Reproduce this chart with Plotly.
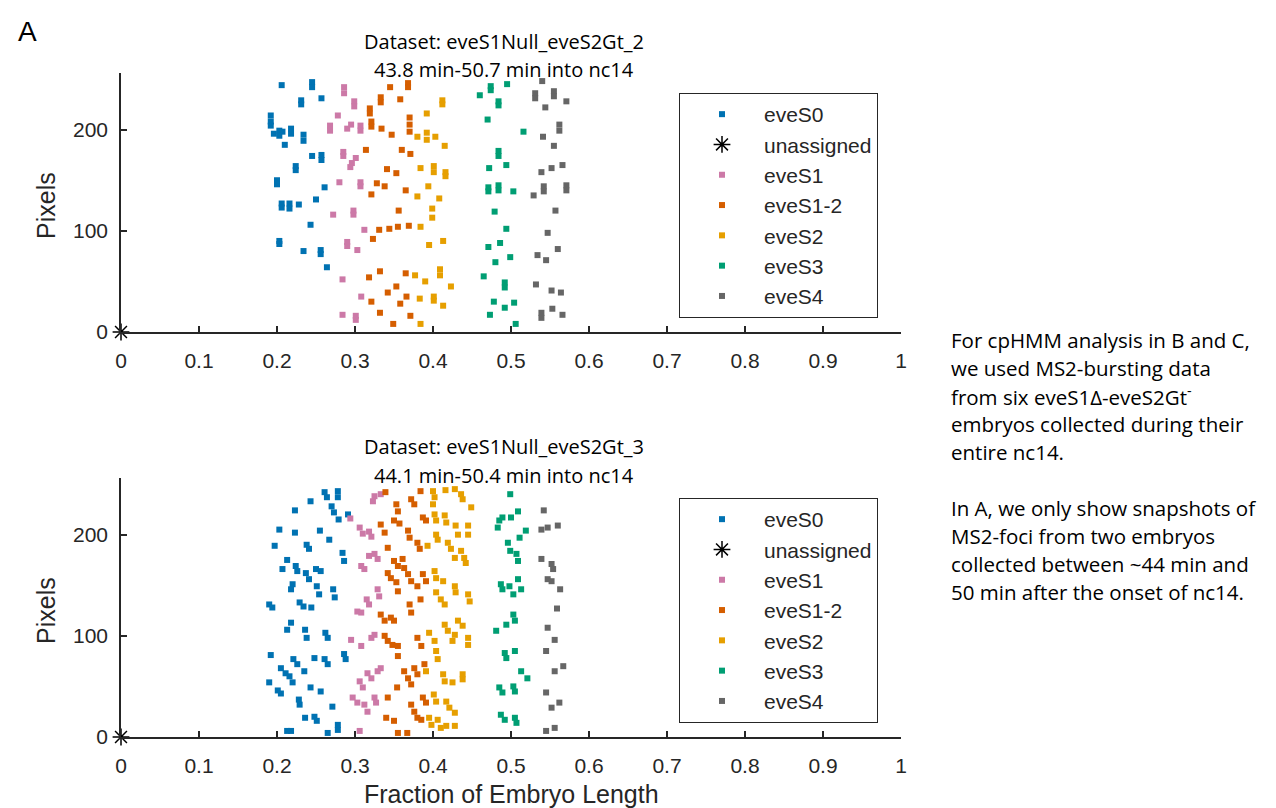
import plotly.graph_objects as go

# ---------------- data (fraction of embryo length, pixels) ----------------
# Top embryo: eveS1Null_eveS2Gt_2
top_S0_x = [0.206, 0.245, 0.245, 0.231, 0.231, 0.257, 0.192, 0.192, 0.192, 0.196, 0.203, 0.207, 0.203, 0.218, 0.218,
            0.234, 0.234, 0.210, 0.245, 0.257, 0.257, 0.224, 0.224, 0.200, 0.200, 0.261, 0.250, 0.206, 0.206, 0.216,
            0.216, 0.228, 0.243, 0.203, 0.203, 0.234, 0.256, 0.256, 0.264]
top_S0_y = [244, 247, 242, 229, 225, 231, 214, 208, 204, 196, 199, 198, 194, 201, 196,
            195, 189, 185, 174, 175, 170, 164, 160, 150, 146, 143, 131, 127, 123, 127,
            122, 126, 106, 90, 87, 80, 81, 77, 64]

top_S1_x = [0.286, 0.286, 0.299, 0.299, 0.278, 0.268, 0.268, 0.290, 0.295, 0.307, 0.307, 0.285, 0.285, 0.301, 0.296,
            0.294, 0.280, 0.307, 0.307, 0.272, 0.298, 0.298, 0.312, 0.290, 0.290, 0.303, 0.284, 0.308, 0.284, 0.301,
            0.301]
top_S1_y = [242, 236, 228, 223, 214, 204, 199, 201, 205, 204, 199, 178, 174, 172, 167,
            163, 148, 148, 144, 116, 120, 116, 101, 89, 85, 81, 52, 35, 17, 16,
            12]

top_S12_x = [0.345, 0.368, 0.368, 0.333, 0.333, 0.358, 0.319, 0.319, 0.321, 0.321, 0.334, 0.347, 0.370, 0.370, 0.370,
             0.314, 0.360, 0.371, 0.341, 0.353, 0.328, 0.338, 0.321, 0.365, 0.356, 0.331, 0.323, 0.344, 0.355, 0.369,
             0.332, 0.318, 0.365, 0.353, 0.342, 0.366, 0.321, 0.358, 0.332, 0.371, 0.349]
top_S12_y = [242, 246, 242, 232, 227, 230, 221, 216, 208, 203, 201, 195, 212, 205, 198,
             180, 180, 176, 161, 157, 147, 144, 136, 140, 120, 101, 92, 102, 104, 105,
             60, 54, 58, 45, 39, 35, 30, 28, 19, 16, 8]

top_S2_x = [0.412, 0.412, 0.392, 0.380, 0.392, 0.392, 0.403, 0.415, 0.384, 0.401, 0.401, 0.416, 0.416, 0.394, 0.380,
            0.408, 0.399, 0.399, 0.384, 0.395, 0.413, 0.377, 0.390, 0.409, 0.409, 0.423, 0.383, 0.401, 0.401, 0.413,
            0.384]
top_S2_y = [229, 225, 216, 193, 197, 190, 193, 184, 162, 164, 158, 158, 154, 144, 134,
            132, 122, 113, 104, 86, 90, 56, 50, 62, 56, 45, 33, 35, 31, 26,
            8]

top_S3_x = [0.460, 0.474, 0.474, 0.495, 0.484, 0.484, 0.470, 0.516, 0.484, 0.484, 0.472, 0.494, 0.471, 0.471, 0.484,
            0.484, 0.503, 0.479, 0.494, 0.471, 0.486, 0.499, 0.480, 0.465, 0.492, 0.492, 0.478, 0.492, 0.504, 0.473,
            0.506]
top_S3_y = [234, 243, 239, 245, 228, 224, 210, 198, 179, 174, 162, 165, 143, 139, 145,
            140, 139, 119, 102, 84, 88, 74, 69, 55, 49, 44, 30, 24, 29, 17,
            8]

top_S4_x = [0.540, 0.531, 0.531, 0.555, 0.555, 0.571, 0.544, 0.562, 0.562, 0.541, 0.555, 0.539, 0.552, 0.566, 0.529,
            0.542, 0.542, 0.571, 0.571, 0.557, 0.547, 0.534, 0.545, 0.560, 0.532, 0.552, 0.564, 0.539, 0.539, 0.553,
            0.566]
top_S4_y = [248, 236, 231, 238, 233, 228, 222, 205, 199, 193, 184, 158, 162, 165, 135,
            144, 139, 145, 140, 120, 98, 76, 71, 82, 47, 41, 39, 19, 14, 23,
            17]

# Bottom embryo: eveS1Null_eveS2Gt_3
bot_S0_x = [0.261, 0.264, 0.278, 0.278, 0.243, 0.223, 0.270, 0.273, 0.279, 0.291, 0.203, 0.223, 0.255, 0.238, 0.241,
            0.267, 0.197, 0.284, 0.286, 0.213, 0.207, 0.224, 0.226, 0.237, 0.241, 0.250, 0.256, 0.220, 0.218, 0.251,
            0.254, 0.272, 0.274, 0.190, 0.194, 0.229, 0.234, 0.244, 0.218, 0.213, 0.236, 0.238, 0.262, 0.265, 0.192,
            0.205, 0.211, 0.221, 0.226, 0.235, 0.248, 0.261, 0.265, 0.286, 0.288, 0.190, 0.201, 0.205, 0.216, 0.220,
            0.243, 0.256, 0.228, 0.229, 0.271, 0.236, 0.248, 0.251, 0.265, 0.278, 0.278, 0.213, 0.218]
bot_S0_y = [242, 237, 243, 237, 233, 224, 228, 222, 215, 220, 205, 202, 204, 190, 186,
            195, 189, 182, 174, 175, 166, 169, 164, 162, 156, 166, 164, 151, 146, 149,
            141, 146, 138, 131, 128, 133, 129, 128, 113, 106, 106, 98, 103, 98, 81,
            68, 63, 77, 72, 65, 78, 77, 72, 82, 77, 54, 46, 43, 60, 54,
            49, 45, 37, 32, 30, 19, 20, 16, 4, 12, 7, 6, 6]

bot_S1_x = [0.325, 0.323, 0.333, 0.294, 0.306, 0.310, 0.318, 0.321, 0.308, 0.312, 0.318, 0.325, 0.329, 0.329, 0.331,
            0.303, 0.308, 0.315, 0.318, 0.295, 0.308, 0.321, 0.325, 0.306, 0.310, 0.316, 0.321, 0.329, 0.333, 0.297,
            0.303, 0.312, 0.316, 0.325, 0.327, 0.306]
bot_S1_y = [238, 233, 240, 216, 207, 201, 203, 198, 169, 166, 179, 181, 176, 146, 139,
            124, 123, 136, 131, 96, 90, 98, 101, 55, 49, 63, 58, 65, 68, 39,
            34, 32, 25, 39, 34, 6]

bot_S12_x = [0.339, 0.353, 0.355, 0.350, 0.357, 0.372, 0.376, 0.384, 0.333, 0.338, 0.342, 0.368, 0.370, 0.387, 0.391,
             0.380, 0.383, 0.350, 0.355, 0.361, 0.363, 0.342, 0.346, 0.353, 0.355, 0.368, 0.372, 0.380, 0.387, 0.391,
             0.333, 0.338, 0.346, 0.350, 0.370, 0.372, 0.384, 0.338, 0.342, 0.348, 0.355, 0.355, 0.380, 0.385, 0.363,
             0.368, 0.372, 0.376, 0.380, 0.389, 0.342, 0.354, 0.372, 0.376, 0.380, 0.387, 0.391, 0.340, 0.350, 0.355,
             0.367, 0.385]
bot_S12_y = [242, 230, 223, 214, 211, 235, 230, 243, 210, 202, 187, 204, 197, 217, 214,
             192, 186, 174, 169, 176, 167, 162, 157, 153, 144, 161, 154, 149, 161, 154,
             121, 115, 118, 115, 131, 123, 136, 100, 95, 91, 90, 80, 98, 90, 65,
             58, 52, 68, 62, 72, 39, 49, 32, 25, 19, 39, 34, 19, 16, 4,
             4, 17]

bot_S2_x = [0.400, 0.402, 0.400, 0.416, 0.428, 0.436, 0.438, 0.449, 0.402, 0.404, 0.415, 0.417, 0.404, 0.406, 0.429,
            0.432, 0.445, 0.445, 0.393, 0.419, 0.423, 0.428, 0.436, 0.440, 0.442, 0.402, 0.404, 0.413, 0.404, 0.410,
            0.415, 0.428, 0.429, 0.445, 0.447, 0.432, 0.438, 0.415, 0.419, 0.428, 0.425, 0.395, 0.402, 0.445, 0.445,
            0.404, 0.406, 0.391, 0.413, 0.415, 0.425, 0.438, 0.438, 0.401, 0.404, 0.417, 0.421, 0.428, 0.395, 0.398,
            0.406, 0.410, 0.417, 0.428]
bot_S2_y = [243, 237, 230, 244, 245, 240, 235, 227, 220, 214, 219, 212, 200, 195, 209,
            200, 209, 200, 189, 192, 186, 177, 184, 177, 172, 164, 157, 154, 143, 136,
            131, 149, 143, 141, 134, 115, 110, 111, 105, 101, 95, 103, 95, 98, 91,
            85, 77, 65, 62, 55, 54, 62, 57, 42, 35, 35, 29, 24, 19, 12,
            17, 9, 11, 11]

bot_S3_x = [0.499, 0.485, 0.483, 0.489, 0.500, 0.509, 0.519, 0.496, 0.499, 0.507, 0.509, 0.511, 0.487, 0.489, 0.498,
            0.503, 0.509, 0.513, 0.503, 0.505, 0.481, 0.494, 0.492, 0.494, 0.505, 0.513, 0.521, 0.485, 0.489, 0.503,
            0.505, 0.487, 0.492, 0.505, 0.507]
bot_S3_y = [240, 214, 207, 217, 217, 223, 204, 192, 184, 181, 174, 197, 151, 146, 149,
            141, 156, 146, 121, 115, 105, 111, 83, 78, 85, 65, 58, 49, 44, 50,
            45, 22, 17, 19, 14]

bot_S4_x = [0.542, 0.539, 0.547, 0.560, 0.539, 0.552, 0.554, 0.547, 0.552, 0.563, 0.559, 0.547, 0.556, 0.545, 0.556,
            0.567, 0.545, 0.552, 0.562, 0.545, 0.556]
bot_S4_y = [224, 205, 207, 209, 176, 171, 166, 156, 154, 146, 127, 108, 96, 85, 65,
            70, 44, 29, 34, 6, 9]

unassigned_x = [0.0]
unassigned_y = [0.0]

x_tick_vals = [0, 0.1, 0.2, 0.3, 0.4, 0.5, 0.6, 0.7, 0.8, 0.9, 1]
x_tick_text = ["0", "0.1", "0.2", "0.3", "0.4", "0.5", "0.6", "0.7", "0.8", "0.9", "1"]
y_tick_vals = [0, 100, 200]
y_tick_text = ["0", "100", "200"]

titles_top = ["Dataset: eveS1Null_eveS2Gt_2", "43.8 min-50.7 min into nc14"]
titles_bot = ["Dataset: eveS1Null_eveS2Gt_3", "44.1 min-50.4 min into nc14"]

side_text = ["For cpHMM analysis in B and C,",
             "we used MS2-bursting data",
             "from six eveS1\u0394-eveS2Gt<sup>-</sup>",
             "embryos collected during their",
             "entire nc14.",
             "",
             "In A, we only show snapshots of",
             "MS2-foci from two embryos",
             "collected between ~44 min and",
             "50 min after the onset of nc14."]

# ---------------- styling ----------------
colors = {"eveS0": "#0072B2", "eveS1": "#CC79A7", "eveS1-2": "#D55E00",
          "eveS2": "#E69F00", "eveS3": "#009E73", "eveS4": "#666666"}
AX = "#262626"
ARIAL = "Liberation Sans, Arial"
TICKFONT = dict(family=ARIAL, size=21, color=AX)

W, H = 1276, 808
ML, MR, MT, MB = 113, 383, 65, 79
PH = H - MT - MB


def py(px):
    return (H - MB - px) / PH


def pxx(px):
    return (px - ML) / (W - ML - MR)


fig = go.Figure()


def add_panel(xa, ya, legend, series):
    first = True
    for name, xs, ys in series:
        fig.add_trace(go.Scatter(x=xs, y=ys, mode="markers", name=name,
                                 xaxis=xa, yaxis=ya, legend=legend,
                                 marker=dict(symbol="square", size=6, color=colors[name], line=dict(width=0)),
                                 cliponaxis=False))
        if first:
            fig.add_trace(go.Scatter(x=unassigned_x, y=unassigned_y, mode="markers", name="unassigned",
                                     xaxis=xa, yaxis=ya, legend=legend,
                                     marker=dict(symbol="asterisk-open", size=14, color="black",
                                                 line=dict(width=1.5, color="black")),
                                     cliponaxis=False))
            first = False


add_panel("x", "y", "legend", [
    ("eveS0", top_S0_x, top_S0_y), ("eveS1", top_S1_x, top_S1_y), ("eveS1-2", top_S12_x, top_S12_y),
    ("eveS2", top_S2_x, top_S2_y), ("eveS3", top_S3_x, top_S3_y), ("eveS4", top_S4_x, top_S4_y)])
add_panel("x2", "y2", "legend2", [
    ("eveS0", bot_S0_x, bot_S0_y), ("eveS1", bot_S1_x, bot_S1_y), ("eveS1-2", bot_S12_x, bot_S12_y),
    ("eveS2", bot_S2_x, bot_S2_y), ("eveS3", bot_S3_x, bot_S3_y), ("eveS4", bot_S4_x, bot_S4_y)])

xax = dict(range=[0, 1], tickvals=x_tick_vals, ticktext=x_tick_text, showline=True, linecolor=AX,
           linewidth=1.5, ticks="inside", ticklen=6, tickwidth=1.5, tickcolor=AX, showgrid=False,
           zeroline=False, tickfont=TICKFONT, ticklabelstandoff=9, fixedrange=True)
yax = dict(range=[0, 256], tickvals=y_tick_vals, ticktext=y_tick_text, showline=True, linecolor=AX,
           linewidth=1.5, ticks="inside", ticklen=6, tickwidth=1.5, tickcolor=AX, showgrid=False,
           zeroline=False, tickfont=TICKFONT, ticklabelstandoff=7, fixedrange=True)

leg = dict(bordercolor=AX, borderwidth=1, bgcolor="white", font=dict(family=ARIAL, size=21, color=AX),
           tracegroupgap=0, itemwidth=74, xanchor="left", yanchor="top", itemclick=False)

annotations = []
TFONT = dict(family="Open Sans", size=20, color="black")
for i, t in enumerate(titles_top):
    annotations.append(dict(text=t, x=pxx(496), y=py(33 + 29 * i), xref="paper", yref="paper",
                            showarrow=False, xanchor="center", yanchor="middle", font=TFONT))
for i, t in enumerate(titles_bot):
    annotations.append(dict(text=t, x=pxx(496), y=py(438 + 29 * i), xref="paper", yref="paper",
                            showarrow=False, xanchor="center", yanchor="middle", font=TFONT))
for i, t in enumerate(side_text):
    if t:
        annotations.append(dict(text=t, x=pxx(941), y=py(332 + 28 * i), xref="paper", yref="paper",
                                showarrow=False, xanchor="left", yanchor="middle",
                                font=dict(family="Open Sans", size=20.5, color="black")))
annotations.append(dict(text="A", x=pxx(8), y=py(23), xref="paper", yref="paper", showarrow=False,
                        xanchor="left", yanchor="middle", font=dict(family=ARIAL, size=28, color="black")))
for yc in (198, 603):
    annotations.append(dict(text="Pixels", x=pxx(38), y=py(yc), xref="paper", yref="paper", showarrow=False,
                            textangle=-90, xanchor="center", yanchor="middle",
                            font=dict(family=ARIAL, size=25, color=AX)))
annotations.append(dict(text="Fraction of Embryo Length", x=pxx(503), y=py(786), xref="paper", yref="paper",
                        showarrow=False, xanchor="center", yanchor="middle",
                        font=dict(family=ARIAL, size=25, color=AX)))

fig.update_layout(
    width=W, height=H, margin=dict(l=ML, r=MR, t=MT, b=MB),
    paper_bgcolor="white", plot_bgcolor="white",
    xaxis=dict(xax, domain=[0, 1], anchor="y"),
    yaxis=dict(yax, domain=[py(324), 1.0], anchor="x"),
    xaxis2=dict(xax, domain=[0, 1], anchor="y2"),
    yaxis2=dict(yax, domain=[0.0, py(470)], anchor="x2"),
    legend=dict(leg, x=pxx(671), y=py(85)),
    legend2=dict(leg, x=pxx(671), y=py(490)),
    annotations=annotations,
    showlegend=True,
)

fig.write_html("out.html")
